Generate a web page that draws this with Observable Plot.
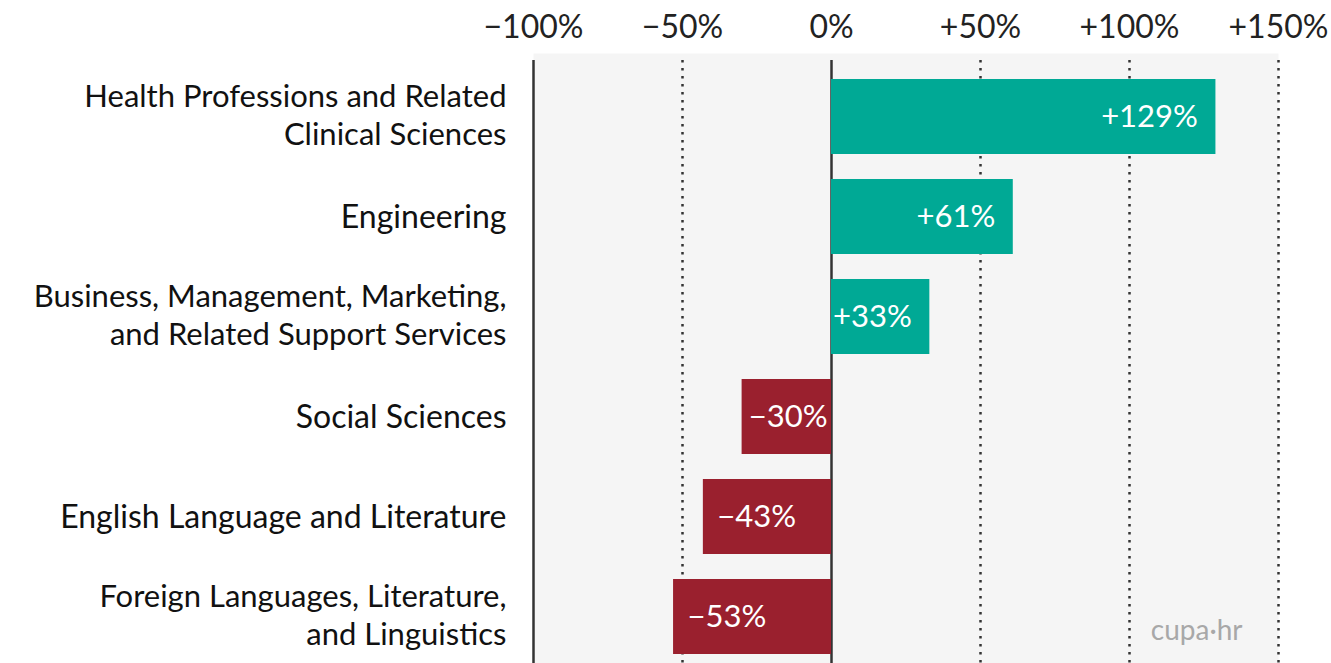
<!DOCTYPE html>
<html>
<head>
<meta charset="utf-8">
<script src="https://cdn.jsdelivr.net/npm/d3@7"></script>
<script src="https://cdn.jsdelivr.net/npm/@observablehq/plot@0.6"></script>
<style>
  html, body { margin: 0; padding: 0; background: #fff; }
  #chart svg { display: block; }
</style>
</head>
<body>
<div id="chart"></div>
<script>
const categories = [
  "Health Professions and Related\nClinical Sciences",
  "Engineering",
  "Business, Management, Marketing,\nand Related Support Services",
  "Social Sciences",
  "English Language and Literature",
  "Foreign Languages, Literature,\nand Linguistics"
];
const changes = [129, 61, 33, -30, -43, -53];
const tickValues = [-100, -50, 0, 50, 100, 150];
const tickLabels = ["\u2212100%", "\u221250%", "0%", "+50%", "+100%", "+150%"];
const logoText = "cupa\u00b7hr";

const data = categories.map((c, i) => ({category: c, value: changes[i]}));
const fmt = v => (v > 0 ? "+" : v < 0 ? "\u2212" : "") + Math.abs(v) + "%";
const font = "Lato, 'Open Sans', sans-serif";
const oneLine = data.filter(d => !d.category.includes("\n"));
const twoLine = data.filter(d => d.category.includes("\n"));

const chart = Plot.plot({
  width: 1331,
  height: 663,
  marginTop: 63,
  marginBottom: 0,
  marginLeft: 533,
  marginRight: 53,
  style: {fontFamily: font, fontSize: "32px", color: "#222", background: "#fff"},
  x: {domain: [-100, 150], axis: "top", ticks: tickValues, tickFormat: (d) => tickLabels[tickValues.indexOf(d)], tickSize: 0, tickPadding: 26, label: null},
  y: {domain: categories, range: [63, 669], paddingInner: 0.2528, paddingOuter: 0.147, axis: null},
  marks: [
    Plot.frame({fill: "#f5f5f5", stroke: null, insetTop: -10}),
    Plot.ruleX(tickValues.filter(v => v !== 0 && v !== -100), {stroke: "#333", strokeWidth: 2.5, strokeDasharray: "2.5,5.5", insetTop: -3}),
    Plot.ruleX([-100, 0], {stroke: "#333", strokeWidth: 2.5, insetTop: -3}),
    Plot.barX(data, {x1: 0, x2: "value", y: "category", fill: d => d.value >= 0 ? "#00a995" : "#9a202e"}),
    Plot.text(data.filter(d => d.value > 0), {x: "value", y: "category", text: d => fmt(d.value), textAnchor: "end", dx: -18, fill: "#fff", fontSize: 31}),
    Plot.text(data.filter(d => d.value < -35), {x: "value", y: "category", text: d => fmt(d.value), textAnchor: "start", dx: 14, fill: "#fff", fontSize: 31}),
    Plot.text(data.filter(d => d.value < 0 && d.value >= -35), {x: 0, y: "category", text: d => fmt(d.value), textAnchor: "end", dx: -4, fill: "#fff", fontSize: 31}),
    Plot.text(oneLine, {y: "category", text: "category", frameAnchor: "left", textAnchor: "end", dx: -27, dy: 1, fill: "#111", fontSize: 32}),
    Plot.text(twoLine, {y: "category", text: "category", frameAnchor: "left", textAnchor: "end", dx: -27, dy: -3, fill: "#111", fontSize: 31, lineHeight: 1.2}),
    Plot.text([logoText], {frameAnchor: "bottom-right", text: d => d, dx: -36, dy: -24, fill: "#a8a8a8", fontSize: 28})
  ]
});
document.getElementById("chart").appendChild(chart);
</script>
</body>
</html>
